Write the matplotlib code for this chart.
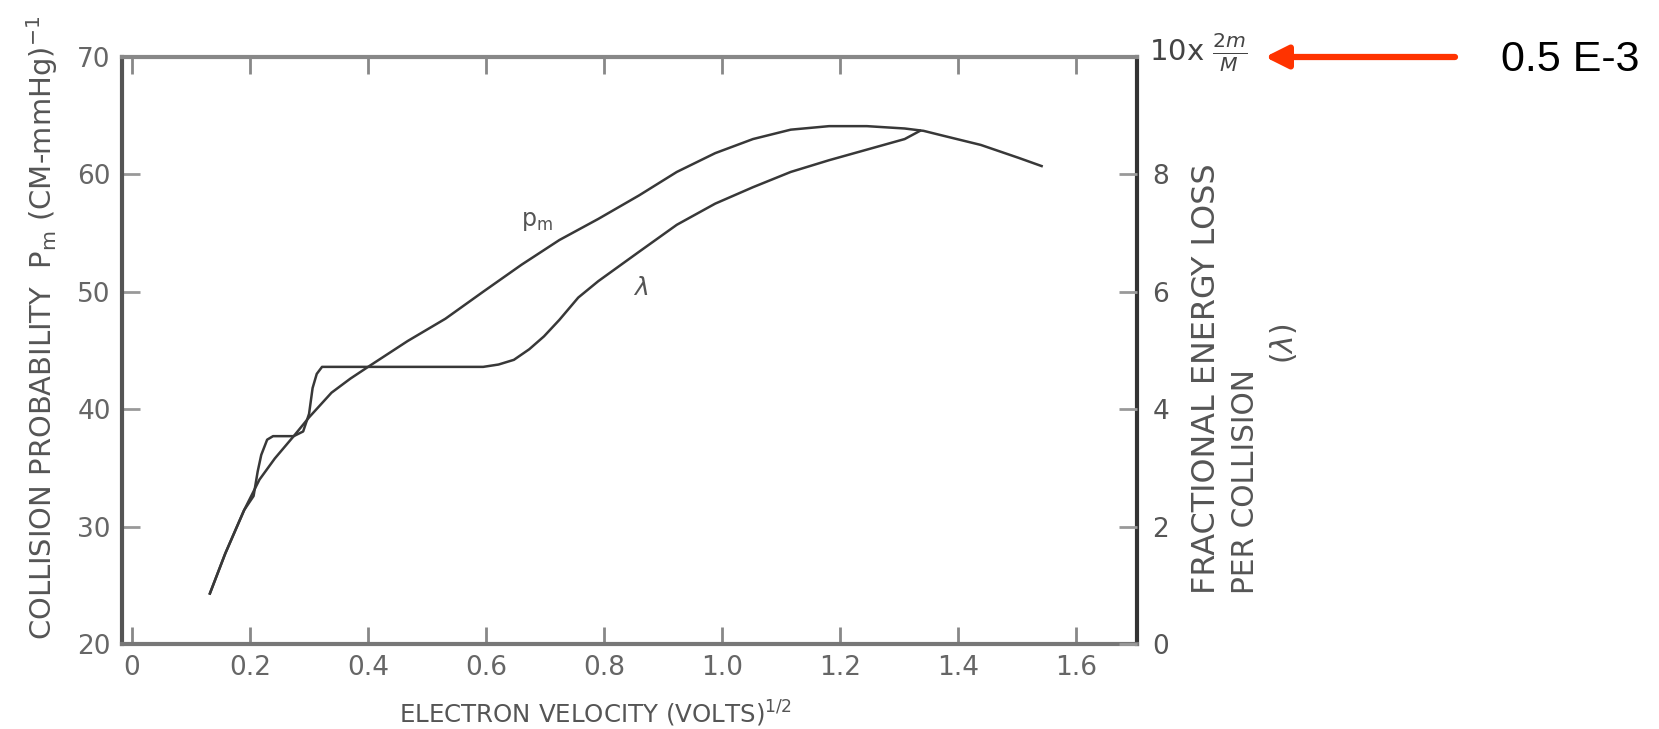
import matplotlib
matplotlib.use("Agg")
import matplotlib.pyplot as plt
from matplotlib import font_manager

# collision probability P_m, left scale (cm-mmHg)^-1
pm_v = [0.132, 0.158, 0.190, 0.216, 0.242, 0.274, 0.300, 0.338, 0.370, 0.403,
        0.467, 0.531, 0.595, 0.660, 0.724, 0.790, 0.859, 0.923, 0.988, 1.052,
        1.116, 1.181, 1.245, 1.309, 1.341, 1.373, 1.438, 1.502, 1.541]
pm = [24.3, 27.7, 31.4, 34.0, 35.8, 37.7, 39.3, 41.4, 42.6, 43.7,
      45.8, 47.7, 50.0, 52.3, 54.4, 56.2, 58.2, 60.2, 61.8, 63.0,
      63.8, 64.1, 64.1, 63.9, 63.7, 63.3, 62.5, 61.4, 60.7]

# fractional energy loss per collision, right scale (x 2m/M)
lam_v = [0.132, 0.158, 0.190, 0.206, 0.213, 0.219, 0.229, 0.239, 0.274, 0.290,
         0.300, 0.306, 0.313, 0.322, 0.403, 0.595, 0.621, 0.647, 0.673, 0.698,
         0.724, 0.756, 0.790, 0.859, 0.923, 0.988, 1.052, 1.116, 1.181, 1.245,
         1.309, 1.335]
lam = [0.86, 1.54, 2.28, 2.52, 2.94, 3.22, 3.48, 3.54, 3.54, 3.62,
       3.92, 4.36, 4.60, 4.72, 4.72, 4.72, 4.76, 4.84, 5.02, 5.24,
       5.52, 5.90, 6.18, 6.68, 7.14, 7.50, 7.78, 8.04, 8.24, 8.42,
       8.60, 8.74]

x_ticks = [0, 0.2, 0.4, 0.6, 0.8, 1.0, 1.2, 1.4, 1.6]
x_labels = ["0", "0.2", "0.4", "0.6", "0.8", "1.0", "1.2", "1.4", "1.6"]
left_ticks = [20, 30, 40, 50, 60, 70]
right_ticks = [0, 2, 4, 6, 8]

installed = {f.name for f in font_manager.fontManager.ttflist}
narrow = "Liberation Sans Narrow" in installed
lbl_font = "Liberation Sans Narrow" if narrow else "DejaVu Sans"
k = 1.0 if narrow else 0.82

ink = "#383838"
txt = "#555555"

fig = plt.figure(figsize=(16.59, 7.29), dpi=100)
ax = fig.add_axes([0.0735, 0.1166, 0.612, 0.8054])
ax2 = ax.twinx()

ax.plot(pm_v, pm, color=ink, lw=1.8)
ax2.plot(lam_v, lam, color=ink, lw=1.8)

ax.set_xlim(-0.017, 1.703)
ax.set_ylim(20, 70)
ax2.set_ylim(0, 10)

ax.set_xticks(x_ticks)
ax.set_xticklabels(x_labels)
ax.set_yticks(left_ticks)
ax2.set_yticks(right_ticks)

ax.tick_params(axis="x", direction="in", top=True, length=12, width=2,
               color="#888888", labelsize=19, labelcolor="#666666", pad=8)
ax.tick_params(axis="y", direction="in", length=13, width=2,
               color="#999999", labelsize=19, labelcolor="#666666", pad=8)
ax2.tick_params(axis="y", direction="in", length=13, width=2,
                color="#999999", labelsize=19, labelcolor="#555555", pad=11)

for side, c in [("left", "#555555"), ("bottom", "#777777"),
                ("top", "#888888"), ("right", "#333333")]:
    ax.spines[side].set_color(c)
    ax.spines[side].set_linewidth(3)
for s in ax2.spines.values():
    s.set_visible(False)

ax.text(0.686, 56.0, r"p$_\mathregular{m}$", fontsize=17, color=txt,
        ha="center", va="center")
ax.text(0.862, 50.3, r"$\lambda$", fontsize=18, color=txt,
        ha="center", va="center")

fig.text(0.0255, 0.122, r"COLLISION PROBABILITY  P$_\mathregular{m}$ (CM-mmHg)$^{-1}$",
         rotation=90, ha="center", va="bottom", fontsize=25.5 * k,
         family=lbl_font, color=txt)
fig.text(0.359, 0.021, r"ELECTRON VELOCITY (VOLTS)$^{1/2}$", ha="center",
         va="center", fontsize=21.5 * k, family=lbl_font, color=txt)
fig.text(0.7275, 0.185, "FRACTIONAL ENERGY LOSS", rotation=90, ha="center",
         va="bottom", fontsize=28 * k, family=lbl_font, color=txt)
fig.text(0.7505, 0.185, "PER COLLISION", rotation=90, ha="center",
         va="bottom", fontsize=26 * k, family=lbl_font, color=txt)
fig.text(0.7735, 0.528, r"($\lambda$)", rotation=90, ha="center",
         va="center", fontsize=26 * k, family=lbl_font, color=txt)
fig.text(0.6925, 0.927, r"10x $\frac{2m}{M}$", ha="left", va="center",
         fontsize=21, color="#444444")

ax.annotate("", xy=(1265, 672), xytext=(1455, 672), xycoords="figure pixels",
            textcoords="figure pixels", annotation_clip=False,
            arrowprops=dict(arrowstyle="-|>", color="#ff3300", lw=4.5,
                            mutation_scale=34, shrinkA=0, shrinkB=0))
fig.text(0.905, 0.918, "0.5 E-3", ha="left", va="center", fontsize=31,
         family="Liberation Sans", color="black")

fig.savefig("out.png", dpi=100)
